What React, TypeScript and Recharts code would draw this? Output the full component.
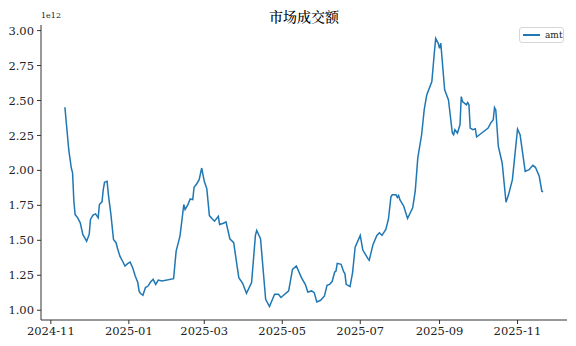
import React from "react";
import { LineChart, Line, XAxis, YAxis } from "recharts";

// 交易日（读图取点）
const dates = [
  "2024-11-12", "2024-11-15", "2024-11-17", "2024-11-18", "2024-11-19", "2024-11-20", "2024-11-22", "2024-11-24", "2024-11-26", "2024-11-29",
  "2024-12-01", "2024-12-02", "2024-12-04", "2024-12-06", "2024-12-08", "2024-12-09", "2024-12-11", "2024-12-12", "2024-12-13", "2024-12-15",
  "2024-12-16", "2024-12-18", "2024-12-20", "2024-12-22", "2024-12-23", "2024-12-25", "2024-12-27", "2024-12-29", "2024-12-31",
  "2025-01-02", "2025-01-04", "2025-01-06", "2025-01-08", "2025-01-09", "2025-01-10", "2025-01-12", "2025-01-14", "2025-01-16", "2025-01-18",
  "2025-01-20", "2025-01-22", "2025-01-24", "2025-01-27",
  "2025-02-05", "2025-02-07", "2025-02-10", "2025-02-13", "2025-02-14", "2025-02-16", "2025-02-18", "2025-02-20", "2025-02-21", "2025-02-23",
  "2025-02-25", "2025-02-27",
  "2025-03-01", "2025-03-03", "2025-03-05", "2025-03-07", "2025-03-09", "2025-03-12", "2025-03-13", "2025-03-16", "2025-03-18", "2025-03-21",
  "2025-03-24", "2025-03-28", "2025-03-31",
  "2025-04-03", "2025-04-07", "2025-04-10", "2025-04-11", "2025-04-14", "2025-04-18", "2025-04-21", "2025-04-25", "2025-04-28", "2025-04-30",
  "2025-05-06", "2025-05-09", "2025-05-12", "2025-05-16", "2025-05-19", "2025-05-21", "2025-05-24", "2025-05-26", "2025-05-28", "2025-05-31",
  "2025-06-03", "2025-06-05", "2025-06-07", "2025-06-09", "2025-06-11", "2025-06-12", "2025-06-13", "2025-06-16", "2025-06-18", "2025-06-19",
  "2025-06-20", "2025-06-23", "2025-06-25", "2025-06-27",
  "2025-07-01", "2025-07-03", "2025-07-07", "2025-07-08", "2025-07-11", "2025-07-14", "2025-07-16", "2025-07-18", "2025-07-19", "2025-07-21",
  "2025-07-23", "2025-07-25", "2025-07-26", "2025-07-29", "2025-07-30", "2025-07-31",
  "2025-08-01", "2025-08-04", "2025-08-07", "2025-08-11", "2025-08-13", "2025-08-15", "2025-08-18", "2025-08-20", "2025-08-22", "2025-08-26",
  "2025-08-28", "2025-08-29", "2025-08-31",
  "2025-09-01", "2025-09-02", "2025-09-05", "2025-09-08", "2025-09-11", "2025-09-12", "2025-09-13", "2025-09-15", "2025-09-17", "2025-09-18",
  "2025-09-19", "2025-09-22", "2025-09-23", "2025-09-24", "2025-09-25", "2025-09-27", "2025-09-29", "2025-09-30",
  "2025-10-09", "2025-10-11", "2025-10-13", "2025-10-14", "2025-10-15", "2025-10-17", "2025-10-20", "2025-10-23", "2025-10-25", "2025-10-28",
  "2025-11-01", "2025-11-03", "2025-11-07", "2025-11-10", "2025-11-13", "2025-11-15", "2025-11-18", "2025-11-20", "2025-11-21",
];

// amt，单位 1e12
const amt = [
  2.452, 2.148, 2.017, 1.982, 1.779, 1.684, 1.661, 1.625, 1.542, 1.494,
  1.542, 1.649, 1.68, 1.689, 1.661, 1.756, 1.775, 1.863, 1.915, 1.922,
  1.827, 1.684, 1.506, 1.483, 1.447, 1.387, 1.352, 1.316, 1.333,
  1.344, 1.304, 1.245, 1.198, 1.138, 1.121, 1.107, 1.162, 1.173, 1.202,
  1.221, 1.185, 1.216, 1.209,
  1.226, 1.423, 1.53, 1.756, 1.72, 1.751, 1.796, 1.791, 1.879, 1.903,
  1.934, 2.017,
  1.922, 1.868, 1.677, 1.656, 1.637, 1.672, 1.613, 1.622, 1.632, 1.511,
  1.483, 1.233, 1.193,
  1.121, 1.198, 1.535, 1.57, 1.511, 1.078, 1.026, 1.114, 1.114, 1.091,
  1.138, 1.292, 1.316, 1.233, 1.185, 1.13, 1.138, 1.126, 1.059, 1.071,
  1.102, 1.178, 1.185, 1.205, 1.273, 1.28, 1.335, 1.328, 1.276, 1.262,
  1.185, 1.169, 1.269, 1.451,
  1.535, 1.43, 1.369, 1.357, 1.471, 1.535, 1.554, 1.535, 1.549, 1.578,
  1.649, 1.811, 1.825, 1.825, 1.806, 1.82,
  1.791, 1.744, 1.656, 1.732, 1.851, 2.089, 2.255, 2.433, 2.54, 2.635,
  2.849, 2.944, 2.909,
  2.873, 2.909, 2.576, 2.504, 2.267, 2.255, 2.291, 2.267, 2.326, 2.528,
  2.492, 2.469, 2.485, 2.469, 2.303, 2.291, 2.298, 2.239,
  2.303, 2.338, 2.362, 2.45, 2.433, 2.171, 2.053, 1.772, 1.827, 1.934,
  2.296, 2.255, 1.993, 2.005, 2.036, 2.022, 1.958, 1.851, 1.846,
];

const xTickLabels = ["2024-11", "2025-01", "2025-03", "2025-05", "2025-07", "2025-09", "2025-11"];
const yTicks = [1.0, 1.25, 1.5, 1.75, 2.0, 2.25, 2.5, 2.75, 3.0];

const toTs = (s: string) => {
  const [y, m, d] = s.split("-").map(Number);
  return Date.UTC(y, m - 1, d || 1);
};

const data = dates.map((d, i) => ({ t: toTs(d), amt: amt[i] }));

// matplotlib 默认 5% 边距
const pad = (lo: number, hi: number) => {
  const p = (hi - lo) * 0.05;
  return [lo - p, hi + p];
};
const xDomain = pad(data[0].t, data[data.length - 1].t);
const yDomain = pad(Math.min(...amt), Math.max(...amt));

const fmtMonth = (t: number) => {
  const d = new Date(t);
  return `${d.getUTCFullYear()}-${String(d.getUTCMonth() + 1).padStart(2, "0")}`;
};

const tickStyle = { fill: "#222", fontSize: 11.5, fontFamily: "'DejaVu Serif', serif" };
const spine = { stroke: "#333", strokeWidth: 1 };

export default function App() {
  return (
    <div style={{ position: "relative", width: 576, height: 346, background: "#fff" }}>
      <style>{`body{margin:0}`}</style>
      <div
        style={{
          position: "absolute",
          left: 0,
          width: 608,
          top: 6,
          textAlign: "center",
          fontSize: 14,
          fontWeight: 500,
          fontFamily: "'Noto Serif CJK SC', 'Noto Sans CJK SC', serif",
          color: "#000",
          zIndex: 2,
        }}
      >
        市场成交额
      </div>
      <div
        style={{
          position: "absolute",
          left: 41,
          top: 11,
          fontSize: 8,
          fontFamily: "'DejaVu Serif', serif",
          color: "#222",
          zIndex: 2,
        }}
      >
        1e12
      </div>
      <LineChart width={576} height={346} data={data} margin={{ top: 25, right: 9, left: 0, bottom: 0 }}>
        <XAxis
          dataKey="t"
          type="number"
          scale="linear"
          domain={xDomain}
          ticks={xTickLabels.map(toTs)}
          tickFormatter={fmtMonth}
          height={26}
          tickSize={4}
          tickMargin={3}
          tick={tickStyle}
          axisLine={spine}
          tickLine={spine}
          allowDataOverflow
        />
        <YAxis
          type="number"
          domain={yDomain}
          ticks={yTicks}
          tickFormatter={(v: number) => v.toFixed(2)}
          width={41}
          tickSize={4}
          tickMargin={3}
          tick={tickStyle}
          axisLine={spine}
          tickLine={spine}
          allowDataOverflow
        />
        <Line
          type="linear"
          dataKey="amt"
          stroke="#1f77b4"
          strokeWidth={1.5}
          dot={false}
          isAnimationActive={false}
        />
      </LineChart>
      <div
        style={{
          position: "absolute",
          left: 519,
          top: 27,
          width: 43,
          height: 14,
          border: "1px solid #d6d6d6",
          borderRadius: 3,
          background: "rgba(255,255,255,0.8)",
          zIndex: 2,
        }}
      >
        <div style={{ position: "absolute", left: 3, top: 6, width: 17, height: 1.5, background: "#1f77b4" }} />
        <div
          style={{
            position: "absolute",
            left: 25,
            top: 1,
            fontSize: 9,
            lineHeight: "12px",
            fontFamily: "'DejaVu Serif', serif",
            color: "#222",
          }}
        >
          amt
        </div>
      </div>
    </div>
  );
}
